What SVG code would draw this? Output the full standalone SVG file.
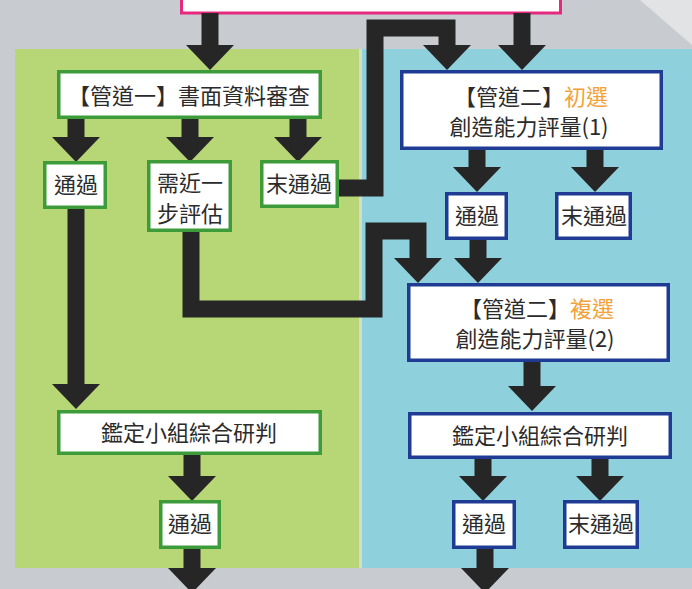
<svg xmlns="http://www.w3.org/2000/svg" xmlns:xlink="http://www.w3.org/1999/xlink" width="692" height="589" viewBox="0 0 692 589">
<style>
  .g rect{fill:#ffffff;stroke:#3d9b3a;stroke-width:3.5}
  .b rect{fill:#ffffff;stroke:#1f3b94;stroke-width:3.5}
  text{font-family:"Noto Sans CJK TC","Noto Sans CJK SC",sans-serif;font-size:22px;fill:#2b2b2b;text-anchor:middle}
  .o{fill:#f2a23a}
  .shaft{fill:none;stroke:#262626;stroke-width:17;stroke-linejoin:miter}
  .head{fill:#262626}
</style>
<defs>
  <path id="ah" d="M-24,0 L24,0 L0,25 Z"/>
</defs>
<rect x="0" y="0" width="692" height="589" fill="#c8cbcf"/>
<polygon points="640,0 692,0 692,45" fill="#e2e3e5"/>
<rect id="panel-left" x="15" y="49" width="344" height="519" fill="#b7d675"/>
<rect id="panel-right" x="362" y="49" width="330" height="519" fill="#8fd0dd"/>
<rect x="359" y="49" width="3" height="519" fill="#d6dccb"/>

<g id="top-box"><rect x="181.5" y="-6" width="379" height="19" fill="#ffffff" stroke="#e6297f" stroke-width="3"/></g>

<g id="connectors">
  <path class="shaft" d="M210,13 V46"/>
  <use href="#ah" x="210" y="45" class="head"/>
  <path class="shaft" d="M522,13 V46"/>
  <use href="#ah" x="522" y="45" class="head"/>
  <path class="shaft" d="M337,188 H375 V28 H447 V46"/>
  <use href="#ah" x="447" y="45" class="head"/>
  <path class="shaft" d="M76,118 V138"/>
  <use href="#ah" x="76" y="137" class="head"/>
  <path class="shaft" d="M190,118 V138"/>
  <use href="#ah" x="190" y="137" class="head"/>
  <path class="shaft" d="M298,118 V138"/>
  <use href="#ah" x="298" y="137" class="head"/>
  <path class="shaft" d="M76,208 V384"/>
  <use href="#ah" x="76" y="384" class="head"/>
  <path class="shaft" d="M191,231 V309 H374 V231 H418 V259"/>
  <use href="#ah" x="418" y="258" class="head"/>
  <path class="shaft" d="M477,150 V168"/>
  <use href="#ah" x="477" y="167" class="head"/>
  <path class="shaft" d="M595,150 V168"/>
  <use href="#ah" x="595" y="167" class="head"/>
  <path class="shaft" d="M478,239 V259"/>
  <use href="#ah" x="478" y="258" class="head"/>
  <path class="shaft" d="M532,361 V387"/>
  <use href="#ah" x="532" y="386" class="head"/>
  <path class="shaft" d="M192,454 V477"/>
  <use href="#ah" x="192" y="476" class="head"/>
  <path class="shaft" d="M483,458 V477"/>
  <use href="#ah" x="483" y="476" class="head"/>
  <path class="shaft" d="M600,458 V477"/>
  <use href="#ah" x="600" y="476" class="head"/>
  <path class="shaft" d="M192,548 V570"/>
  <use href="#ah" x="192" y="568" class="head"/>
  <path class="shaft" d="M485,548 V570"/>
  <use href="#ah" x="485" y="568" class="head"/>
</g>

<g id="n-track1" class="g"><rect x="58.75" y="71.75" width="261.5" height="45.5"/><text x="189" y="104">【管道一】書面資料審查</text></g>
<g id="n-pass1" class="g"><rect x="44.75" y="162.75" width="60.5" height="44.5"/><text x="76" y="193">通過</text></g>
<g id="n-further" class="g"><rect x="148.75" y="161.75" width="81.5" height="68.5"/><text x="190" y="191">需近一</text><text x="190" y="222">步評估</text></g>
<g id="n-fail1" class="g"><rect x="261.75" y="161.75" width="75.5" height="44.5"/><text x="299" y="192">末通過</text></g>
<g id="n-prelim" class="b"><rect x="401.75" y="71.75" width="259.5" height="76.5"/><text x="531" y="105">【管道二】<tspan class="o">初選</tspan></text><text x="529" y="135">創造能力評量(1)</text></g>
<g id="n-pass2" class="b"><rect x="446.75" y="193.75" width="59.5" height="44.5"/><text x="477" y="224">通過</text></g>
<g id="n-fail2" class="b"><rect x="556.75" y="193.75" width="73.5" height="44.5"/><text x="594" y="224">末通過</text></g>
<g id="n-final" class="b"><rect x="408.75" y="284.75" width="259.5" height="75.5"/><text x="537" y="317">【管道二】<tspan class="o">複選</tspan></text><text x="535" y="347">創造能力評量(2)</text></g>
<g id="n-panel1" class="g"><rect x="58.75" y="411.75" width="261.5" height="41.5"/><text x="189" y="441">鑑定小組綜合研判</text></g>
<g id="n-panel2" class="b"><rect x="409.75" y="413.75" width="260.5" height="43.5"/><text x="540" y="444">鑑定小組綜合研判</text></g>
<g id="n-pass3" class="g"><rect x="160.75" y="501.75" width="58.5" height="45.5"/><text x="190" y="532">通過</text></g>
<g id="n-pass4" class="b"><rect x="453.75" y="501.75" width="60.5" height="45.5"/><text x="484" y="532">通過</text></g>
<g id="n-fail3" class="b"><rect x="564.75" y="501.75" width="72.5" height="45.5"/><text x="601" y="532">末通過</text></g>
</svg>
